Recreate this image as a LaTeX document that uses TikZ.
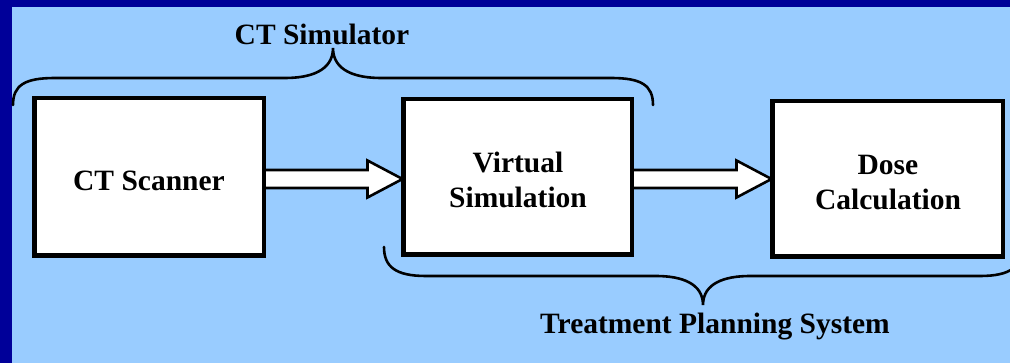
\documentclass[tikz,border=0pt]{standalone}
\usepackage{fontspec}
\setmainfont{Liberation Serif}
\usetikzlibrary{calc}
\definecolor{navybar}{HTML}{000099}
\definecolor{skyback}{HTML}{99CCFF}
\begin{document}
\begin{tikzpicture}[x=1pt,y=-1pt,
  stagebox/.style={draw=black,fill=white,line width=3pt,rectangle,inner sep=0pt},
  lbl/.style={font=\bfseries\fontsize{29.5}{35}\selectfont,inner sep=0pt,anchor=base,align=center},
  blockarrow/.style={draw=black,fill=white,line width=2.6pt,line join=miter},
  bracepath/.style={draw=black,line width=2.6pt,line cap=round}]
\clip (0,0) rectangle (1010,363);
\useasboundingbox (0,0) rectangle (1010,363);
\fill[skyback] (0,0) rectangle (1010,363);
\fill[navybar] (0,0) rectangle (12,363);
\fill[navybar] (0,0) rectangle (1010,7);
% boxes
\node[stagebox,minimum width=228pt,minimum height=156pt] (scan) at (149,177) {};
\node[stagebox,minimum width=227pt,minimum height=154pt] (virt) at (517.5,177) {};
\node[stagebox,minimum width=229pt,minimum height=154pt] (dose) at (887.5,179) {};
% block arrows
\coordinate (a1s) at (scan.east |- dose.west);
\coordinate (a1t) at (virt.west |- dose.west);
\coordinate (a2s) at (virt.east |- dose.west);
\coordinate (a2t) at (dose.west);
\path[blockarrow] ($(a1s)+(0,-9)$) -- ($(a1t)+(-35,-9)$) -- ($(a1t)+(-35,-18.5)$) -- (a1t) -- ($(a1t)+(-35,18.5)$) -- ($(a1t)+(-35,9)$) -- ($(a1s)+(0,9)$) -- cycle;
\path[blockarrow] ($(a2s)+(0,-9)$) -- ($(a2t)+(-35,-9)$) -- ($(a2t)+(-35,-18.5)$) -- (a2t) -- ($(a2t)+(-35,18.5)$) -- ($(a2t)+(-35,9)$) -- ($(a2s)+(0,9)$) -- cycle;
% redraw box borders over arrow ends
\draw[line width=3pt] (scan.south west) rectangle (scan.north east);
\draw[line width=3pt] (virt.south west) rectangle (virt.north east);
\draw[line width=3pt] (dose.south west) rectangle (dose.north east);
% texts
\node[lbl] (tscan) at (149,190.5) {CT Scanner};
\node[lbl] (tvirt) at (518,208) {Virtual\\Simulation};
\node[lbl] (tdose) at (888,210) {Dose\\Calculation};
\node[lbl] (tsim) at (322,45) {CT Simulator};
\node[lbl] (ttps) at (715,334) {Treatment Planning System};
% braces
\path[bracepath] (13,105) .. controls (13,85) and (25,78) .. (55,78) -- (285,78) .. controls (310,78) and (333,71) .. (333,48) .. controls (333,71) and (356,78) .. (381,78) -- (611,78) .. controls (641,78) and (653,85) .. (653,105);
\path[bracepath] (384,247) .. controls (384,267) and (396,276) .. (426,276) -- (656,276) .. controls (681,276) and (703,283) .. (703,305) .. controls (703,283) and (725,276) .. (750,276) -- (980,276) .. controls (1010,276) and (1022,267) .. (1022,247);
\end{tikzpicture}
\end{document}
